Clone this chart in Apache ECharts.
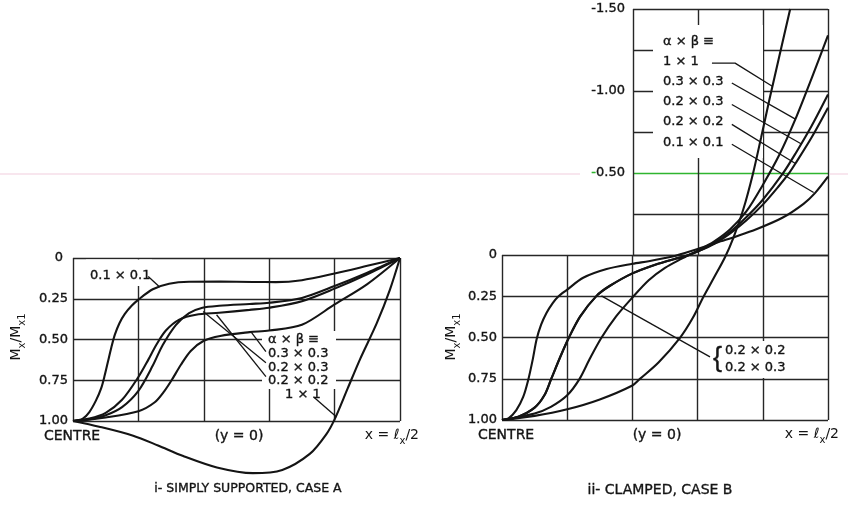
<!DOCTYPE html>
<html><head><meta charset="utf-8">
<script src="https://cdn.jsdelivr.net/npm/echarts@6/dist/echarts.min.js"></script>
<style>html,body{margin:0;padding:0;background:#fff}#c{width:848px;height:506px}</style>
</head><body><div id="c"></div>
<script>
// ---------- DATA (x = distance from centre / (lx/2), value = Mx/Mx1) ----------
// i - simply supported, case A
const ss_01x01 = [[0,1],[0.03,0.985],[0.05,0.945],[0.07,0.875],[0.086,0.8],[0.097,0.72],[0.107,0.635],[0.117,0.55],[0.128,0.47],[0.142,0.4],[0.158,0.344],[0.18,0.292],[0.2,0.255],[0.244,0.192],[0.294,0.158],[0.355,0.146],[0.45,0.145],[0.55,0.147],[0.62,0.148],[0.7,0.136],[0.8,0.095],[0.9,0.048],[1,0]];
const ss_02x02 = [[0,1],[0.05,0.985],[0.1,0.95],[0.15,0.87],[0.2,0.73],[0.23,0.625],[0.254,0.535],[0.284,0.445],[0.325,0.378],[0.376,0.348],[0.447,0.336],[0.54,0.318],[0.6,0.305],[0.7,0.265],[0.8,0.188],[0.9,0.1],[1,0]];
const ss_02x03 = [[0,1],[0.05,0.99],[0.1,0.965],[0.15,0.915],[0.2,0.815],[0.244,0.66],[0.274,0.535],[0.315,0.41],[0.355,0.338],[0.396,0.305],[0.447,0.293],[0.54,0.282],[0.6,0.275],[0.7,0.245],[0.8,0.172],[0.9,0.09],[1,0]];
const ss_03x03 = [[0,1],[0.1,0.978],[0.2,0.94],[0.25,0.885],[0.28,0.815],[0.3,0.755],[0.33,0.655],[0.36,0.57],[0.4,0.508],[0.45,0.478],[0.54,0.455],[0.6,0.445],[0.7,0.41],[0.8,0.285],[0.9,0.16],[1,0]];
const ss_1x1   = [[0,1],[0.08,1.035],[0.184,1.09],[0.26,1.15],[0.337,1.215],[0.44,1.285],[0.55,1.32],[0.64,1.3],[0.725,1.2],[0.775,1.08],[0.8,0.99],[0.84,0.8],[0.878,0.62],[0.929,0.4],[0.969,0.195],[1,0]];
// ii - clamped, case B
const cl_01x01 = [[0,1],[0.02,0.99],[0.044,0.94],[0.065,0.86],[0.08,0.76],[0.095,0.625],[0.106,0.51],[0.12,0.42],[0.136,0.35],[0.155,0.29],[0.172,0.25],[0.198,0.21],[0.249,0.135],[0.321,0.082],[0.4,0.05],[0.45,0.034],[0.5,0.015],[0.53,0.002],[0.6,-0.04],[0.66,-0.08],[0.72,-0.118],[0.78,-0.16],[0.86,-0.23],[0.925,-0.315],[0.96,-0.38],[1,-0.48]];
const cl_02_common = [[0,1],[0.05,0.98],[0.1,0.925],[0.13,0.85],[0.151,0.75],[0.178,0.62],[0.205,0.5],[0.24,0.37],[0.29,0.245],[0.33,0.185],[0.4,0.108],[0.47,0.055],[0.53,0.02],[0.56,0.005]];
const cl_02x03_tail = [[0.6,-0.025],[0.65,-0.075],[0.7,-0.145],[0.75,-0.235],[0.8,-0.34],[0.86,-0.495],[0.9,-0.62],[0.95,-0.79],[1,-0.98]];
const cl_02x02_tail = [[0.6,-0.025],[0.65,-0.07],[0.7,-0.135],[0.75,-0.215],[0.8,-0.31],[0.85,-0.425],[0.88,-0.5],[0.9,-0.56],[0.95,-0.72],[1,-0.9]];
const cl_03x03 = [[0,1],[0.1,0.96],[0.15,0.92],[0.2,0.85],[0.238,0.75],[0.27,0.625],[0.305,0.5],[0.35,0.37],[0.4,0.255],[0.45,0.15],[0.5,0.075],[0.55,0.02],[0.6,-0.03],[0.65,-0.085],[0.7,-0.16],[0.75,-0.27],[0.8,-0.43],[0.85,-0.61],[0.9,-0.83],[0.95,-1.08],[1,-1.34]];
const cl_1x1   = [[0,1],[0.1,0.975],[0.2,0.935],[0.3,0.875],[0.4,0.79],[0.423,0.75],[0.48,0.65],[0.546,0.5],[0.585,0.38],[0.618,0.25],[0.65,0.135],[0.684,0.01],[0.71,-0.11],[0.74,-0.28],[0.77,-0.5],[0.795,-0.72],[0.821,-0.955],[0.851,-1.215],[0.884,-1.5]];
// tick labels
const lowerTickLabels = ['0','0.25','0.50','0.75','1.00'];
const upperTickLabels = ['-1.50','','-1.00','','-0.50','',''];
// leader lines (annotation pointers, in data units)
const ssLeaders = [
  [[0.23,0.113],[0.265,0.178]],
  [[0.545,0.455],[0.59,0.575]],
  [[0.398,0.328],[0.59,0.642]],
  [[0.439,0.348],[0.59,0.728]],
  [[0.735,0.851],[0.806,0.975]]
];
const clLeaders = [
  [[0.644,-1.171],[0.715,-1.171],[0.829,-1.03]],
  [[0.705,-1.05],[0.9,-0.83]],
  [[0.705,-0.919],[0.92,-0.677]],
  [[0.705,-0.798],[0.9,-0.56]],
  [[0.705,-0.677],[0.956,-0.384]],
  [[0.305,0.245],[0.638,0.616]]
];

// ---------- CHART ----------
const FONT = '"DejaVu Sans", "Noto Sans", sans-serif';
const INK = '#141414';
const GRIDC = '#262626';
const chart = echarts.init(document.getElementById('c'), null, {renderer: 'canvas'});

function xAx(gi, min) {
  return {gridIndex: gi, type: 'value', min: min, max: 1, interval: 0.2,
    axisLine: {show: false}, axisTick: {show: false}, axisLabel: {show: false},
    splitLine: {show: true, showMinLine: true, showMaxLine: true, lineStyle: {color: GRIDC, width: 1.4}}};
}
const lblStyle = {color: INK, fontFamily: FONT, fontSize: 13, textBorderColor: INK, textBorderWidth: 0.35};
function lowerY(gi, zeroPad) {
  return {gridIndex: gi, type: 'value', min: 0, max: 1, interval: 0.25, inverse: true,
    axisLine: {show: false}, axisTick: {show: false},
    axisLabel: Object.assign({margin: 5,
      formatter: function (v) { const i = Math.round(v / 0.25); const t = lowerTickLabels[i];
        return i === 0 ? '{z|' + t + '}' : t; },
      rich: {z: Object.assign({padding: [0, zeroPad, 0, 0]}, lblStyle)}}, lblStyle),
    splitLine: {show: true, showMinLine: true, showMaxLine: true, lineStyle: {color: GRIDC, width: 1.4}}};
}
function curve(name, data, xi, yi) {
  return {type: 'line', name: name, data: data, xAxisIndex: xi, yAxisIndex: yi,
    symbol: 'none', showSymbol: false, smooth: 0.3, clip: false,
    lineStyle: {color: INK, width: 2.1}, z: 3, silent: true};
}
function leader(pts, xi, yi) {
  return {type: 'line', data: pts, xAxisIndex: xi, yAxisIndex: yi, symbol: 'none', showSymbol: false,
    clip: false, lineStyle: {color: INK, width: 1.3}, z: 4, silent: true};
}

const series = [
  curve('0.1 × 0.1', ss_01x01, 0, 0),
  curve('0.2 × 0.2', ss_02x02, 0, 0),
  curve('0.2 × 0.3', ss_02x03, 0, 0),
  curve('0.3 × 0.3', ss_03x03, 0, 0),
  curve('1 × 1', ss_1x1, 0, 0),
  curve('0.1 × 0.1', cl_01x01, 3, 3),
  curve('0.2 × 0.2', cl_02_common.concat(cl_02x02_tail), 3, 3),
  curve('0.2 × 0.3', cl_02_common.concat(cl_02x03_tail), 3, 3),
  curve('0.3 × 0.3', cl_03x03, 3, 3),
  curve('1 × 1', cl_1x1, 3, 3)
];
ssLeaders.forEach(p => series.push(leader(p, 0, 0)));
clLeaders.forEach(p => series.push(leader(p, 3, 3)));

function txt(t, x, y, size, align, fontFamily) {
  return {type: 'text', x: x, y: y, z: 10, style: {text: t, font: (size || 13) + 'px ' + (fontFamily || FONT),
    fill: INK, stroke: INK, lineWidth: 0.35,
    align: align || 'left', textAlign: align || 'left', verticalAlign: 'middle', textVerticalAlign: 'middle'}};
}
function box(x, y, w, h) {
  return {type: 'rect', shape: {x: x, y: y, width: w, height: h}, style: {fill: '#fff'}, z: 1};
}
const subRich = {
  m: {fontFamily: FONT, fontSize: 14, lineHeight: 16, verticalAlign: 'top', fill: INK},
  s: {fontFamily: FONT, fontSize: 10, lineHeight: 10, verticalAlign: 'top', padding: [8, 0, 0, 0], fill: INK}
};
function richTxt(t, x, y, align, rot) {
  return {type: 'text', x: x, y: y, z: 10, rotation: rot || 0,
    style: {text: t, rich: subRich, fill: INK, align: align, textAlign: align,
      verticalAlign: 'middle', textVerticalAlign: 'middle'}};
}

const graphics = [
  // scan artefact line
  {type: 'line', shape: {x1: 0, y1: 174, x2: 580, y2: 174}, style: {stroke: '#f1cddd', lineWidth: 1}, z: 0},
  {type: 'line', shape: {x1: 830, y1: 174, x2: 848, y2: 174}, style: {stroke: '#f1cddd', lineWidth: 1}, z: 0},
  // left panel labels
  box(86, 259.5, 66, 26.5),
  txt('0.1 × 0.1', 90, 276),
  box(262, 331, 74, 58), box(281, 387, 37, 15),
  txt('α × β ≡', 268, 340),
  txt('0.3 × 0.3', 268, 354),
  txt('0.2 × 0.3', 268, 367.5),
  txt('0.2 × 0.2', 268, 381),
  txt('1 × 1', 285, 395),
  // right panel labels
  box(653, 25, 110, 133),
  txt('α × β ≡', 663, 42),
  txt('1 × 1', 663, 62),
  txt('0.3 × 0.3', 663, 82),
  txt('0.2 × 0.3', 663, 102),
  txt('0.2 × 0.2', 663, 122),
  txt('0.1 × 0.1', 663, 143),
  box(710, 341, 88, 37),
  txt('{', 713, 359, 27, 'left', '"Liberation Sans", sans-serif'),
  txt('0.2 × 0.2', 725, 351),
  txt('0.2 × 0.3', 725, 368),
  // axis annotations
  txt('CENTRE', 44, 436, 14),
  txt('(y = 0)', 239, 436, 14, 'center'),
  richTxt('{m|x = ℓ}{s|x}{m|/2}', 419, 436, 'right'),
  txt('CENTRE', 478, 435, 14),
  txt('(y = 0)', 657, 435, 14, 'center'),
  richTxt('{m|x = ℓ}{s|x}{m|/2}', 839, 435, 'right'),
  richTxt('{m|M}{s|x}{m|/M}{s|x1}', 17, 337, 'center', Math.PI / 2),
  richTxt('{m|M}{s|x}{m|/M}{s|x1}', 452, 337, 'center', Math.PI / 2),
  // captions
  txt('i- SIMPLY SUPPORTED, CASE A', 248, 489, 12.5, 'center'),
  txt('ii- CLAMPED, CASE B', 660, 490, 14, 'center')
];

chart.setOption({
  animation: false,
  backgroundColor: '#fff',
  grid: [
    {left: 73, width: 327, top: 258, height: 163},
    {left: 502, width: 326, top: 255, height: 165},
    {left: 633, width: 195, top: 9, height: 246},
    {left: 502, width: 326, top: 9, height: 411}
  ],
  xAxis: [xAx(0, 0), xAx(1, 0), xAx(2, 0.4), {gridIndex: 3, type: 'value', min: 0, max: 1, show: false}],
  yAxis: [
    lowerY(0, 5),
    lowerY(1, 0),
    {gridIndex: 2, type: 'value', min: -1.5, max: 0, interval: 0.25, inverse: true,
      axisLine: {show: false}, axisTick: {show: false},
      axisLabel: Object.assign({margin: 8,
        formatter: function (v) { const i = Math.round((v + 1.5) / 0.25); const t = upperTickLabels[i] || '';
          if (t === '-0.50') return '{g|-}{n|0.50}'; return t; },
        rich: {g: Object.assign({}, lblStyle, {color: '#2fb52f', textBorderColor: '#2fb52f'}), n: Object.assign({}, lblStyle)}}, lblStyle),
      splitLine: {show: true, showMinLine: true, showMaxLine: true,
        lineStyle: {color: [GRIDC, GRIDC, GRIDC, GRIDC, '#2fb52f', GRIDC, GRIDC], width: 1.4}}},
    {gridIndex: 3, type: 'value', min: -1.5, max: 1, inverse: true, show: false}
  ],
  series: series,
  graphic: {elements: graphics}
});
</script></body></html>
